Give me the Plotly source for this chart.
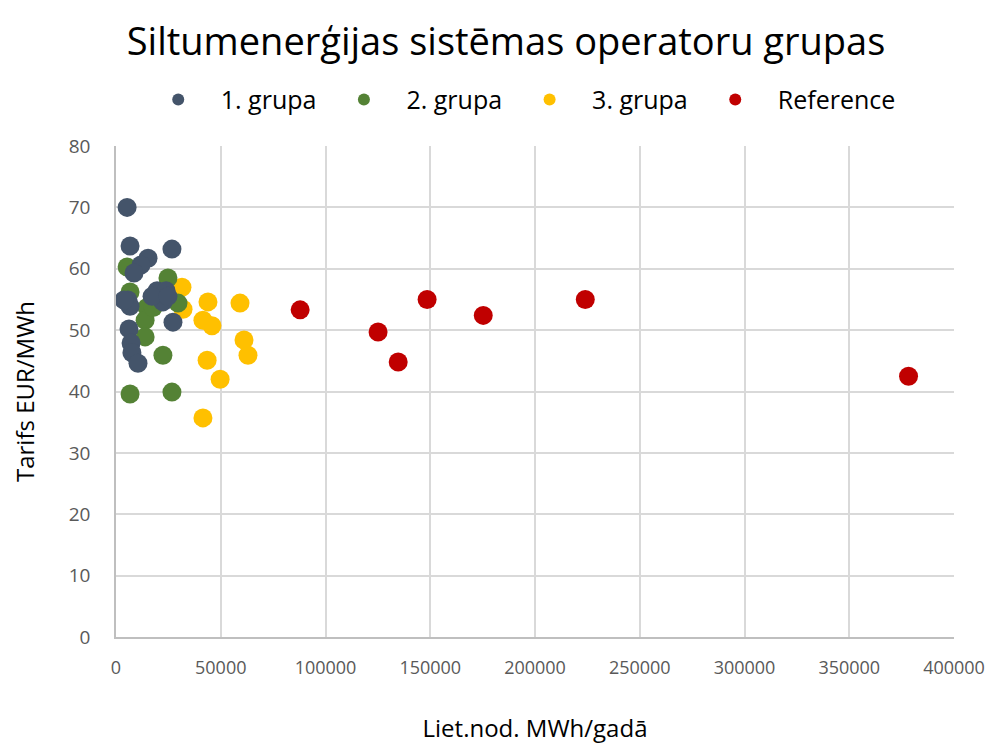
import plotly.graph_objects as go

# 1. grupa
g1_x = [5300, 6700, 26700, 15300, 11900, 8600, 5700, 6700, 19600, 23900, 22400, 17200,
        27200, 6200, 7200, 7600, 10500, 24800, 3800]
g1_y = [70.0, 63.7, 63.2, 61.7, 60.6, 59.3, 54.9, 53.9, 56.4, 56.4, 54.6, 55.5,
        51.3, 50.2, 47.9, 46.3, 44.6, 55.5, 54.9]
# 2. grupa
g2_x = [5300, 24800, 6700, 14800, 13900, 13900, 22400, 6700, 26700, 29600, 17700]
g2_y = [60.3, 58.5, 56.2, 53.7, 51.6, 48.9, 45.9, 39.6, 39.9, 54.4, 53.7]
# 3. grupa
g3_x = [31500, 32000, 43900, 59200, 41500, 45800, 61100, 63000, 43500, 49700, 41500]
g3_y = [57.0, 53.4, 54.6, 54.4, 51.6, 50.7, 48.4, 45.9, 45.1, 42.0, 35.7]
# Reference
ref_x = [87900, 125100, 134700, 148500, 175300, 224000, 378300]
ref_y = [53.3, 49.7, 44.8, 55.0, 52.4, 55.0, 42.5]

names = ["1. grupa", "2. grupa", "3. grupa", "Reference"]
colors = ["#44546A", "#548235", "#FFC000", "#C00000"]
xs = [g1_x, g2_x, g3_x, ref_x]
ys = [g1_y, g2_y, g3_y, ref_y]

fig = go.Figure()
# draw order: Reference, 3, 2, 1 (1. grupa on top); legend order via legendrank
for i in [3, 2, 1, 0]:
    fig.add_trace(go.Scatter(
        x=xs[i], y=ys[i], mode="markers", name=names[i],
        marker=dict(size=19, color=colors[i], line=dict(width=0)),
        legendrank=i + 1,
    ))

font_family = "Open Sans, Noto Sans, Liberation Sans, sans-serif"

fig.update_layout(
    width=996, height=744,
    paper_bgcolor="white", plot_bgcolor="white",
    margin=dict(l=108, r=50, t=138, b=115),
    font=dict(family=font_family, color="#000000"),
    title=dict(text="Siltumenerģijas sistēmas operatoru grupas",
               x=0.5, xanchor="center", y=0.955, yanchor="middle",
               font=dict(size=38, color="#000000")),
    legend=dict(orientation="h", x=0.48, xanchor="center", y=1.094, yanchor="middle",
                font=dict(size=25, color="#000000"), itemsizing="constant",
                traceorder="normal", itemwidth=75),
    xaxis=dict(range=[0, 400000], dtick=50000, tick0=0, showgrid=True,
               gridcolor="#D9D9D9", gridwidth=1.5, showline=True, linecolor="#BFBFBF",
               linewidth=1.5, zeroline=False, ticks="", ticklabelstandoff=14,
               tickfont=dict(size=18, color="#595959"), tickformat="d",
               title=dict(text="Liet.nod. MWh/gadā", font=dict(size=24, color="#000000"),
                          standoff=42)),
    yaxis=dict(range=[0, 80], dtick=10, tick0=0, showgrid=True,
               gridcolor="#D9D9D9", gridwidth=1.5, showline=True, linecolor="#BFBFBF",
               linewidth=1.5, zeroline=False, ticks="", ticklabelstandoff=20,
               tickfont=dict(size=19, color="#595959"),
               title=dict(text="Tarifs EUR/MWh", font=dict(size=24, color="#000000"),
                          standoff=32)),
)

fig.write_html("out.html")
